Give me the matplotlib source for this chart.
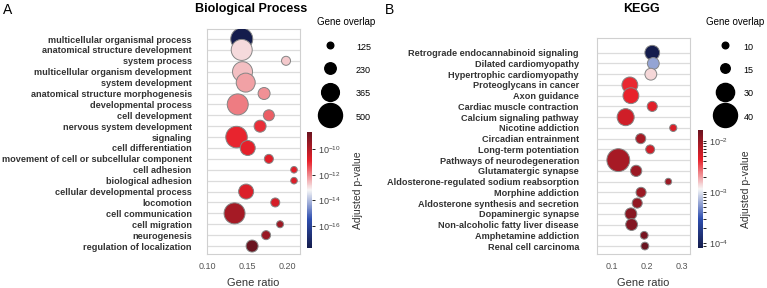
import matplotlib
matplotlib.use("Agg")
import matplotlib.pyplot as plt
import numpy as np
from matplotlib.colors import LinearSegmentedColormap, LogNorm
from matplotlib.lines import Line2D

plt.rcParams['font.family'] = ['Liberation Sans', 'DejaVu Sans']

# --- Biological Process ---
bp_terms = ["multicellular organismal process", "anatomical structure development",
            "system process", "multicellular organism development", "system development",
            "anatomical structure morphogenesis", "developmental process", "cell development",
            "nervous system development", "signaling", "cell differentiation",
            "movement of cell or subcellular component", "cell adhesion", "biological adhesion",
            "cellular developmental process", "locomotion", "cell communication",
            "cell migration", "neurogenesis", "regulation of localization"]
bp_ratio = [0.143, 0.143, 0.1985, 0.144, 0.148, 0.171, 0.138, 0.177, 0.166, 0.1365,
            0.1505, 0.177, 0.2085, 0.2085, 0.1485, 0.185, 0.134, 0.191, 0.1735, 0.156]
bp_overlap = [457, 435, 177, 414, 392, 241, 435, 220, 241, 447,
              306, 177, 125, 125, 306, 177, 435, 134, 177, 241]
bp_padj = [2.0e-18, 1.3e-13, 2.0e-13, 2.5e-13, 5.0e-13, 8.0e-13, 1.3e-12, 2.5e-12, 8.0e-12, 1.0e-11,
           1.3e-11, 1.6e-11, 1.6e-11, 2.0e-11, 2.0e-11, 2.5e-11, 1.8e-10, 2.5e-10, 2.8e-10, 2.1e-9]
bp_legend = [125, 230, 365, 500]
bp_xticks = [0.10, 0.15, 0.20]
bp_cticks = [1e-16, 1e-14, 1e-12, 1e-10]

# --- KEGG ---
kegg_terms = ["Retrograde endocannabinoid signaling", "Dilated cardiomyopathy",
              "Hypertrophic cardiomyopathy", "Proteoglycans in cancer", "Axon guidance",
              "Cardiac muscle contraction", "Calcium signaling pathway", "Nicotine addiction",
              "Circadian entrainment", "Long-term potentiation", "Pathways of neurodegeneration",
              "Glutamatergic synapse", "Aldosterone-regulated sodium reabsorption",
              "Morphine addiction", "Aldosterone synthesis and secretion", "Dopaminergic synapse",
              "Non-alcoholic fatty liver disease", "Amphetamine addiction", "Renal cell carcinoma"]
kegg_ratio = [0.215, 0.218, 0.211, 0.151, 0.154, 0.215, 0.139, 0.275, 0.182, 0.209,
              0.118, 0.169, 0.261, 0.183, 0.172, 0.154, 0.156, 0.192, 0.194]
kegg_overlap = [24, 19, 19, 26, 26, 16, 28, 11, 16, 14, 38, 18, 10, 16, 16, 19, 19, 12, 12]
kegg_padj = [8.1e-5, 6.0e-4, 1.4e-3, 4.1e-3, 4.3e-3, 4.6e-3, 5.6e-3, 5.0e-3, 8.5e-3, 5.6e-3,
             8.5e-3, 9.5e-3, 9.5e-3, 9.5e-3, 1.07e-2, 1.17e-2, 1.26e-2, 1.38e-2, 1.62e-2]
kegg_legend = [10, 15, 30, 40]
kegg_xticks = [0.1, 0.2, 0.3]
kegg_cticks = [1e-4, 1e-3, 1e-2]

cmap = LinearSegmentedColormap.from_list(
    "padj", ["#141c4c", "#2f4fb0", "#f7f7f7", "#e8202a", "#6a1420"])

W, H = 767, 288
fig = plt.figure(figsize=(W / 100, H / 100), dpi=100)


def area(v, lo, hi):
    # radius (px) grows linearly with gene overlap
    r = 3.3 + 8.7 * (np.asarray(v, float) - lo) / (hi - lo)
    return (2 * r * 0.72) ** 2


def panel(box, cbox, terms, ratio, overlap, padj, leg_vals, xticks, xfmt,
          xlim, ylim, cticks, title, letter, letter_x, leg_x, title_x, ypad, textpad):
    ax = fig.add_axes(box)
    lo, hi = leg_vals[0], leg_vals[-1]
    y = np.arange(len(terms))
    norm = LogNorm(vmin=min(padj), vmax=max(padj))
    ax.set_axisbelow(True)
    ax.grid(axis="y", color="#dcdcdc", lw=0.9)
    sc = ax.scatter(ratio, y, s=area(overlap, lo, hi), c=padj, cmap=cmap, norm=norm,
                    edgecolors="#858585", linewidths=0.7, zorder=3)
    ax.set_yticks(y)
    ax.set_yticklabels(terms, fontsize=6.6, fontweight="bold", color="#333333")
    ax.set_xticks(xticks)
    ax.set_xticklabels([xfmt.format(t) for t in xticks], fontsize=6.5, color="#555555")
    ax.tick_params(length=0, pad=6)
    ax.tick_params(axis="y", pad=ypad)
    ax.set_xlim(*xlim)
    ax.set_ylim(*ylim)
    for s in ax.spines.values():
        s.set_color("#d0d0d0")
    ax.set_xlabel("Gene ratio", fontsize=8, color="#333333", labelpad=5)
    fig.text(title_x, 1 - 9 / H, title, fontsize=9, fontweight="bold",
             ha="center", va="center")
    fig.text(letter_x, 1 - 10 / H, letter, fontsize=10, ha="left", va="center")

    cax = fig.add_axes(cbox)
    cb = fig.colorbar(sc, cax=cax, ticks=cticks)
    cb.outline.set_visible(False)
    cax.tick_params(labelsize=6.5, labelcolor="#444444", length=2.5, width=0.6, pad=2)
    cb.set_label("Adjusted p-value", fontsize=7.5, color="#333333", labelpad=9)
    if len(cticks) > 3:
        cax.minorticks_off()

    handles = [Line2D([], [], ls="", marker="o", color="black",
                      markersize=np.sqrt(area(v, lo, hi))) for v in leg_vals]
    leg = ax.legend(handles, [str(v) for v in leg_vals], title="Gene overlap",
                    loc="upper center", bbox_to_anchor=(leg_x, 1 - 12 / H),
                    bbox_transform=fig.transFigure, frameon=False,
                    fontsize=6.5, title_fontsize=7, handlelength=2.0, handleheight=1.8,
                    handletextpad=textpad, labelspacing=1.17, borderpad=0)
    leg._legend_box.sep = 10


panel([207 / W, 1 - 254 / H, 93 / W, 225 / H], [307 / W, 1 - 248 / H, 5 / W, 116 / H],
      bp_terms, bp_ratio, bp_overlap, bp_padj, bp_legend, bp_xticks, "{:.2f}",
      (0.0995, 0.216), (19.73, -0.92), bp_cticks, "Biological Process", "A",
      3 / W, 346 / W, 251 / W, 11, 1.9)

panel([597 / W, 1 - 254 / H, 93 / W, 216 / H], [698 / W, 1 - 248 / H, 5 / W, 118 / H],
      kegg_terms, kegg_ratio, kegg_overlap, kegg_padj, kegg_legend, kegg_xticks, "{:.1f}",
      (0.0571, 0.3229), (18.74, -1.37), kegg_cticks, "KEGG", "B",
      385 / W, 735 / W, 641 / W, 13, 1.0)

fig.savefig("out.png", dpi=100)
